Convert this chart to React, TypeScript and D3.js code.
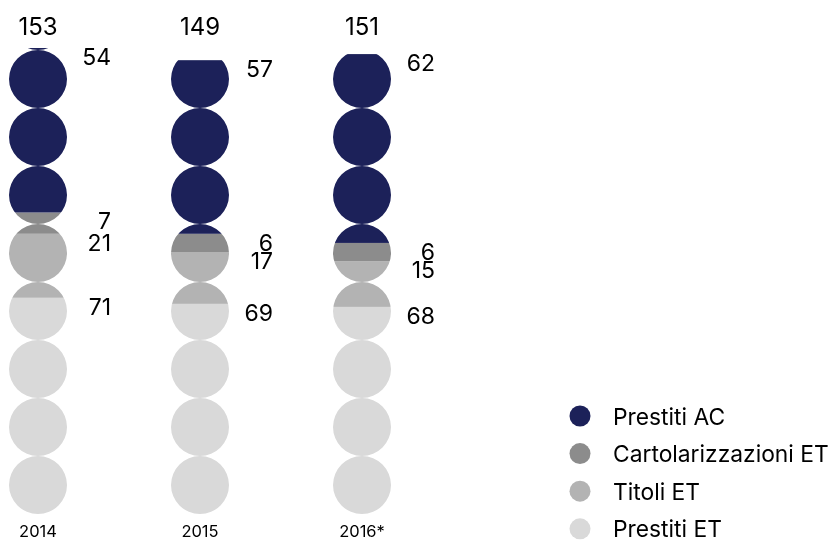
import React from "react";
import * as d3 from "d3";

const years = ["2014", "2015", "2016*"];
const prestitiAC = [54, 57, 62];
const cartolarizzazioniET = [7, 6, 6];
const titoliET = [21, 17, 15];
const prestitiET = [71, 69, 68];
const totals = [153, 149, 151];

const seriesNames = ["Prestiti ET", "Titoli ET", "Cartolarizzazioni ET", "Prestiti AC"];
const seriesColors = ["#d9d9d9", "#b3b3b3", "#8c8c8c", "#1c2159"];
const legendOrder = ["Prestiti AC", "Cartolarizzazioni ET", "Titoli ET", "Prestiti ET"];

const W = 832;
const H = 540;
const bottom = 514;
const R = 29;
const font = "Inter, 'Liberation Sans', Arial, sans-serif";

export default function App() {
  const rows = years.map((y, i) => ({
    year: y,
    "Prestiti ET": prestitiET[i],
    "Titoli ET": titoliET[i],
    "Cartolarizzazioni ET": cartolarizzazioniET[i],
    "Prestiti AC": prestitiAC[i],
  }));
  const stack = d3.stack<any>().keys(seriesNames)(rows);
  const x = d3.scalePoint<string>().domain(years).range([38, 362]);
  const y = d3.scaleLinear().domain([0, 153]).range([bottom, 48]);
  const color = d3.scaleOrdinal<string, string>().domain(seriesNames).range(seriesColors);
  const nCircles = Math.ceil((bottom - y(d3.max(totals) as number)) / (2 * R));
  const circleIdx = d3.range(nCircles);

  return (
    <div style={{ position: "fixed", left: 0, top: 0 }}>
      <svg width={W} height={H} style={{ display: "block" }}>
        <defs>
          {years.map((yr, i) => (
            <clipPath id={`col${i}`} key={yr}>
              {circleIdx.map((k) => (
                <circle key={k} cx={x(yr)} cy={bottom - R - k * 2 * R} r={R} />
              ))}
            </clipPath>
          ))}
        </defs>
        {years.map((yr, i) => (
          <g key={yr}>
            <g clipPath={`url(#col${i})`}>
              {stack.map((s) => (
                <rect
                  key={s.key}
                  x={(x(yr) as number) - R - 1}
                  width={2 * R + 2}
                  y={y(s[i][1])}
                  height={y(s[i][0]) - y(s[i][1])}
                  fill={color(s.key)}
                />
              ))}
            </g>
            {stack.map((s) => (
              <text
                key={s.key}
                x={(x(yr) as number) + 73}
                y={y(s[i][1]) + 17}
                textAnchor="end"
                fontFamily={font}
                fontSize={23}
                fill="#000"
              >
                {s[i].data[s.key]}
              </text>
            ))}
            <text
              x={x(yr)}
              y={35}
              textAnchor="middle"
              fontFamily={font}
              fontSize={24}
              fill="#000"
            >
              {totals[i]}
            </text>
            <text
              x={x(yr)}
              y={537}
              textAnchor="middle"
              fontFamily={font}
              fontSize={16.5}
              fill="#000"
            >
              {yr}
            </text>
          </g>
        ))}
        <g>
          {legendOrder.map((name, i) => (
            <g key={name} transform={`translate(0, ${416 + i * 37.6})`}>
              <circle cx={580} cy={0} r={10.5} fill={color(name)} />
              <text x={613} y={8.5} fontFamily={font} fontSize={22.8} fill="#000">
                {name}
              </text>
            </g>
          ))}
        </g>
      </svg>
    </div>
  );
}
